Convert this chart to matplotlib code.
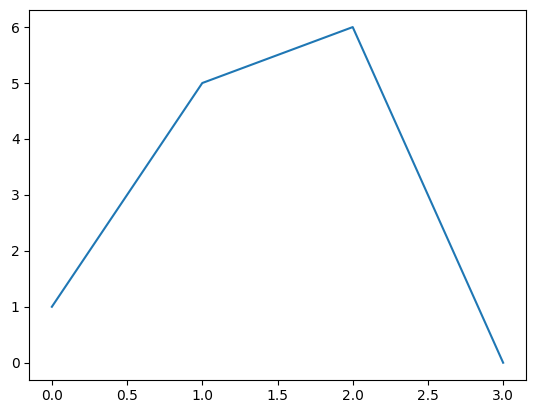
import matplotlib
matplotlib.use("Agg")
import matplotlib.pyplot as plt

x_vals = [0, 1, 2, 3]
y_vals = [1, 5, 6, 0]

fig, ax = plt.subplots(figsize=(5.34, 4.13), dpi=100)
fig.subplots_adjust(left=29.3/534, right=525.7/534, top=1-10.3/413, bottom=1-379.5/413)
ax.plot(x_vals, y_vals)
fig.savefig("out.png", dpi=100)
